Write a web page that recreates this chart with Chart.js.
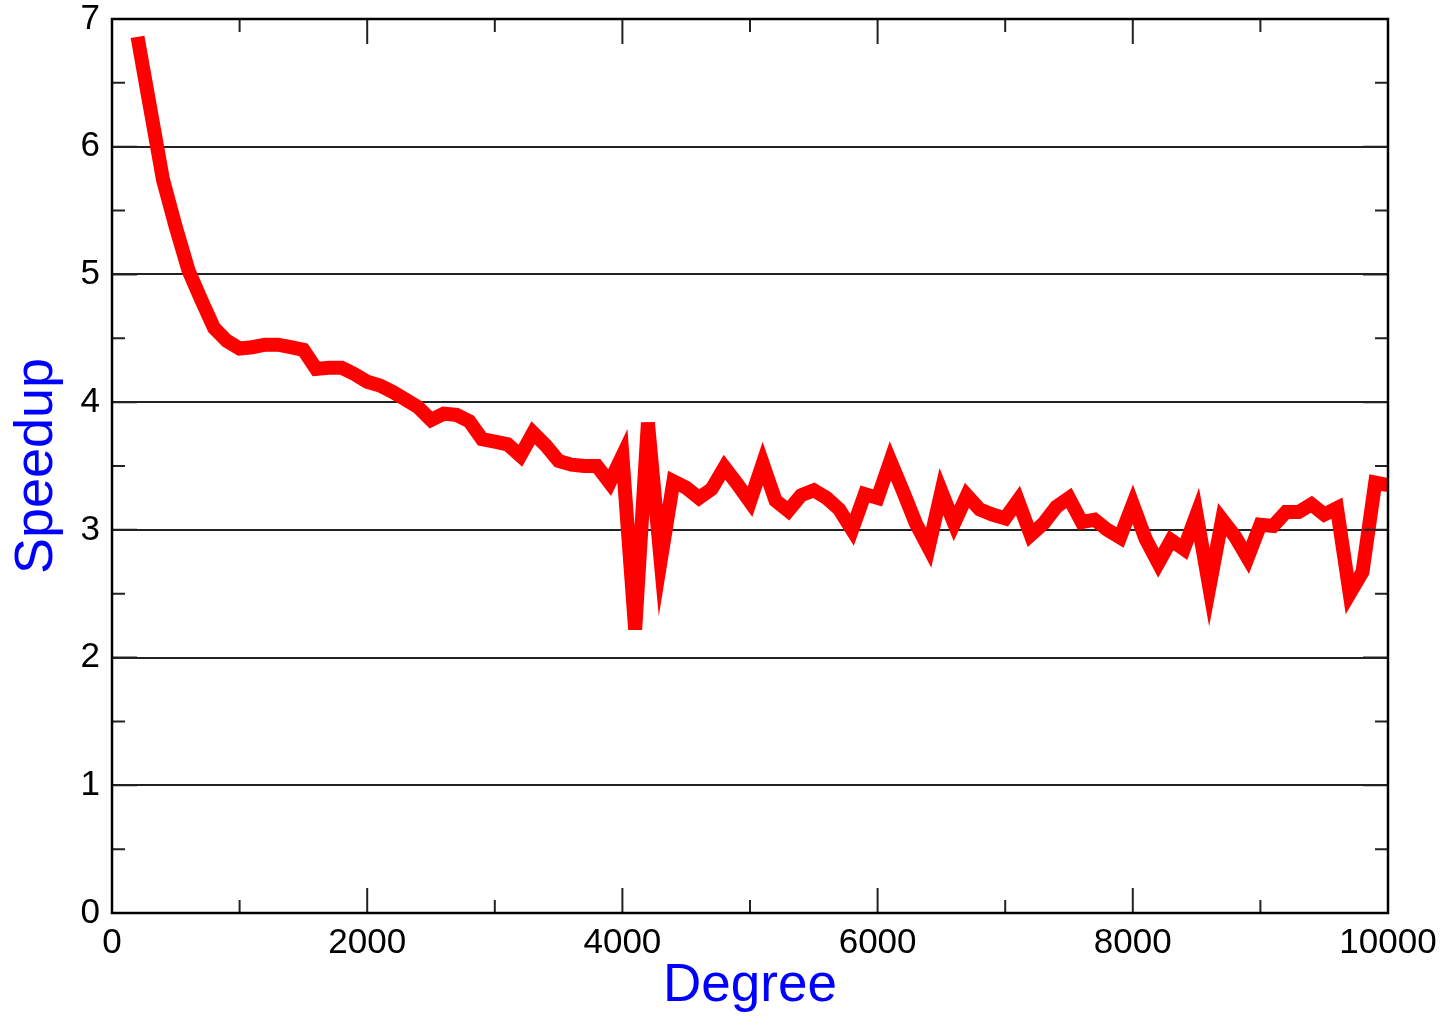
<!DOCTYPE html>
<html>
<head>
<meta charset="utf-8">
<script src="https://cdn.jsdelivr.net/npm/chart.js@4/dist/chart.umd.min.js"></script>
<style>
  html, body { margin: 0; padding: 0; background: #fff; }
  #wrap { width: 1446px; height: 1016px; position: relative; }
</style>
</head>
<body>
<div id="wrap"><canvas id="speedupChart"></canvas></div>
<script>
// degree values (x) and measured speedup (y)
const degrees = [
  200, 300, 400, 500, 600, 700, 800, 900, 1000, 1100,
  1200, 1300, 1400, 1500, 1600, 1700, 1800, 1900, 2000, 2100,
  2200, 2300, 2400, 2500, 2600, 2700, 2800, 2900, 3000, 3100,
  3200, 3300, 3400, 3500, 3600, 3700, 3800, 3900, 4000, 4100,
  4200, 4300, 4400, 4500, 4600, 4700, 4800, 4900, 5000, 5100,
  5200, 5300, 5400, 5500, 5600, 5700, 5800, 5900, 6000, 6100,
  6200, 6300, 6400, 6500, 6600, 6700, 6800, 6900, 7000, 7100,
  7200, 7300, 7400, 7500, 7600, 7700, 7800, 7900, 8000, 8100,
  8200, 8300, 8400, 8500, 8600, 8700, 8800, 8900, 9000, 9100,
  9200, 9300, 9400, 9500, 9600, 9700, 9800, 9900, 10000
];
const speedup = [
  6.86, 6.30, 5.74, 5.37, 5.03, 4.80, 4.58, 4.48, 4.42, 4.43,
  4.45, 4.45, 4.43, 4.41, 4.26, 4.27, 4.27, 4.22, 4.16, 4.13,
  4.08, 4.02, 3.96, 3.86, 3.91, 3.90, 3.85, 3.71, 3.69, 3.67,
  3.58, 3.76, 3.66, 3.54, 3.51, 3.50, 3.50, 3.37, 3.58, 2.22,
  3.84, 2.76, 3.38, 3.33, 3.25, 3.32, 3.49, 3.36, 3.22, 3.52,
  3.23, 3.15, 3.27, 3.31, 3.25, 3.16, 3.00, 3.28, 3.25, 3.54,
  3.30, 3.05, 2.86, 3.30, 3.05, 3.27, 3.16, 3.12, 3.09, 3.23,
  2.96, 3.05, 3.18, 3.25, 3.06, 3.08, 3.00, 2.94, 3.20, 2.93,
  2.74, 2.92, 2.85, 3.12, 2.55, 3.08, 2.95, 2.78, 3.04, 3.03,
  3.14, 3.14, 3.20, 3.12, 3.17, 2.50, 2.67, 3.37, 3.35
];
const xMajorTicks = [0, 2000, 4000, 6000, 8000, 10000];
const xMinorTicks = [1000, 3000, 5000, 7000, 9000];
const yMajorTicks = [0, 1, 2, 3, 4, 5, 6, 7];
const yMinorTicks = [0.5, 1.5, 2.5, 3.5, 4.5, 5.5, 6.5];

const points = degrees.map((d, i) => ({ x: d, y: speedup[i] }));

// inward tick marks on all four sides plus the frame
const frameTicks = {
  id: 'frameTicks',
  afterDraw(chart) {
    const { ctx, chartArea: a, scales: { x, y } } = chart;
    ctx.save();
    ctx.strokeStyle = '#222';
    ctx.lineWidth = 2;
    ctx.beginPath();
    const vt = (v, len) => {
      const px = x.getPixelForValue(v);
      ctx.moveTo(px, a.bottom); ctx.lineTo(px, a.bottom - len);
      ctx.moveTo(px, a.top); ctx.lineTo(px, a.top + len);
    };
    const ht = (v, len) => {
      const py = y.getPixelForValue(v);
      ctx.moveTo(a.left, py); ctx.lineTo(a.left + len, py);
      ctx.moveTo(a.right, py); ctx.lineTo(a.right - len, py);
    };
    xMajorTicks.forEach(v => vt(v, 25));
    xMinorTicks.forEach(v => vt(v, 13));
    yMajorTicks.forEach(v => ht(v, 25));
    yMinorTicks.forEach(v => ht(v, 13));
    ctx.stroke();
    ctx.strokeStyle = '#000';
    ctx.lineWidth = 2.5;
    ctx.strokeRect(a.left, a.top, a.right - a.left, a.bottom - a.top);
    ctx.restore();
  }
};

const ctx = document.getElementById('speedupChart').getContext('2d');
new Chart(ctx, {
  type: 'line',
  data: {
    datasets: [{
      data: points,
      borderColor: '#ff0000',
      borderWidth: 14,
      pointRadius: 0,
      tension: 0,
      fill: false
    }]
  },
  options: {
    responsive: true,
    maintainAspectRatio: false,
    animation: false,
    layout: { padding: { top: 19, right: 58, left: 0, bottom: 0 } },
    plugins: { legend: { display: false }, tooltip: { enabled: false } },
    scales: {
      x: {
        type: 'linear',
        min: 0,
        max: 10000,
        afterFit: (s) => { s.height = 103; s.paddingLeft = 0; s.paddingRight = 0; },
        grid: { display: false, drawTicks: false },
        border: { display: false },
        ticks: {
          stepSize: 2000,
          padding: 9,
          color: '#000',
          maxRotation: 0,
          font: { family: 'Liberation Sans, Arial, sans-serif', size: 35 },
          callback: (v) => String(v)
        },
        title: {
          display: true,
          text: 'Degree',
          color: '#0000ff',
          padding: { top: 0, bottom: 3 },
          font: { family: 'Liberation Sans, Arial, sans-serif', size: 53, lineHeight: 1 }
        }
      },
      y: {
        min: 0,
        max: 7,
        afterFit: (s) => { s.width = 112; s.paddingTop = 0; s.paddingBottom = 0; },
        grid: { color: '#222', lineWidth: 2, drawTicks: false },
        border: { display: false },
        ticks: {
          stepSize: 1,
          padding: 12,
          color: '#000',
          font: { family: 'Liberation Sans, Arial, sans-serif', size: 35 }
        },
        title: {
          display: true,
          text: 'Speedup',
          color: '#0000ff',
          padding: { top: 10, bottom: 0 },
          font: { family: 'Liberation Sans, Arial, sans-serif', size: 54, lineHeight: 1 }
        }
      }
    }
  },
  plugins: [frameTicks]
});
</script>
</body>
</html>
